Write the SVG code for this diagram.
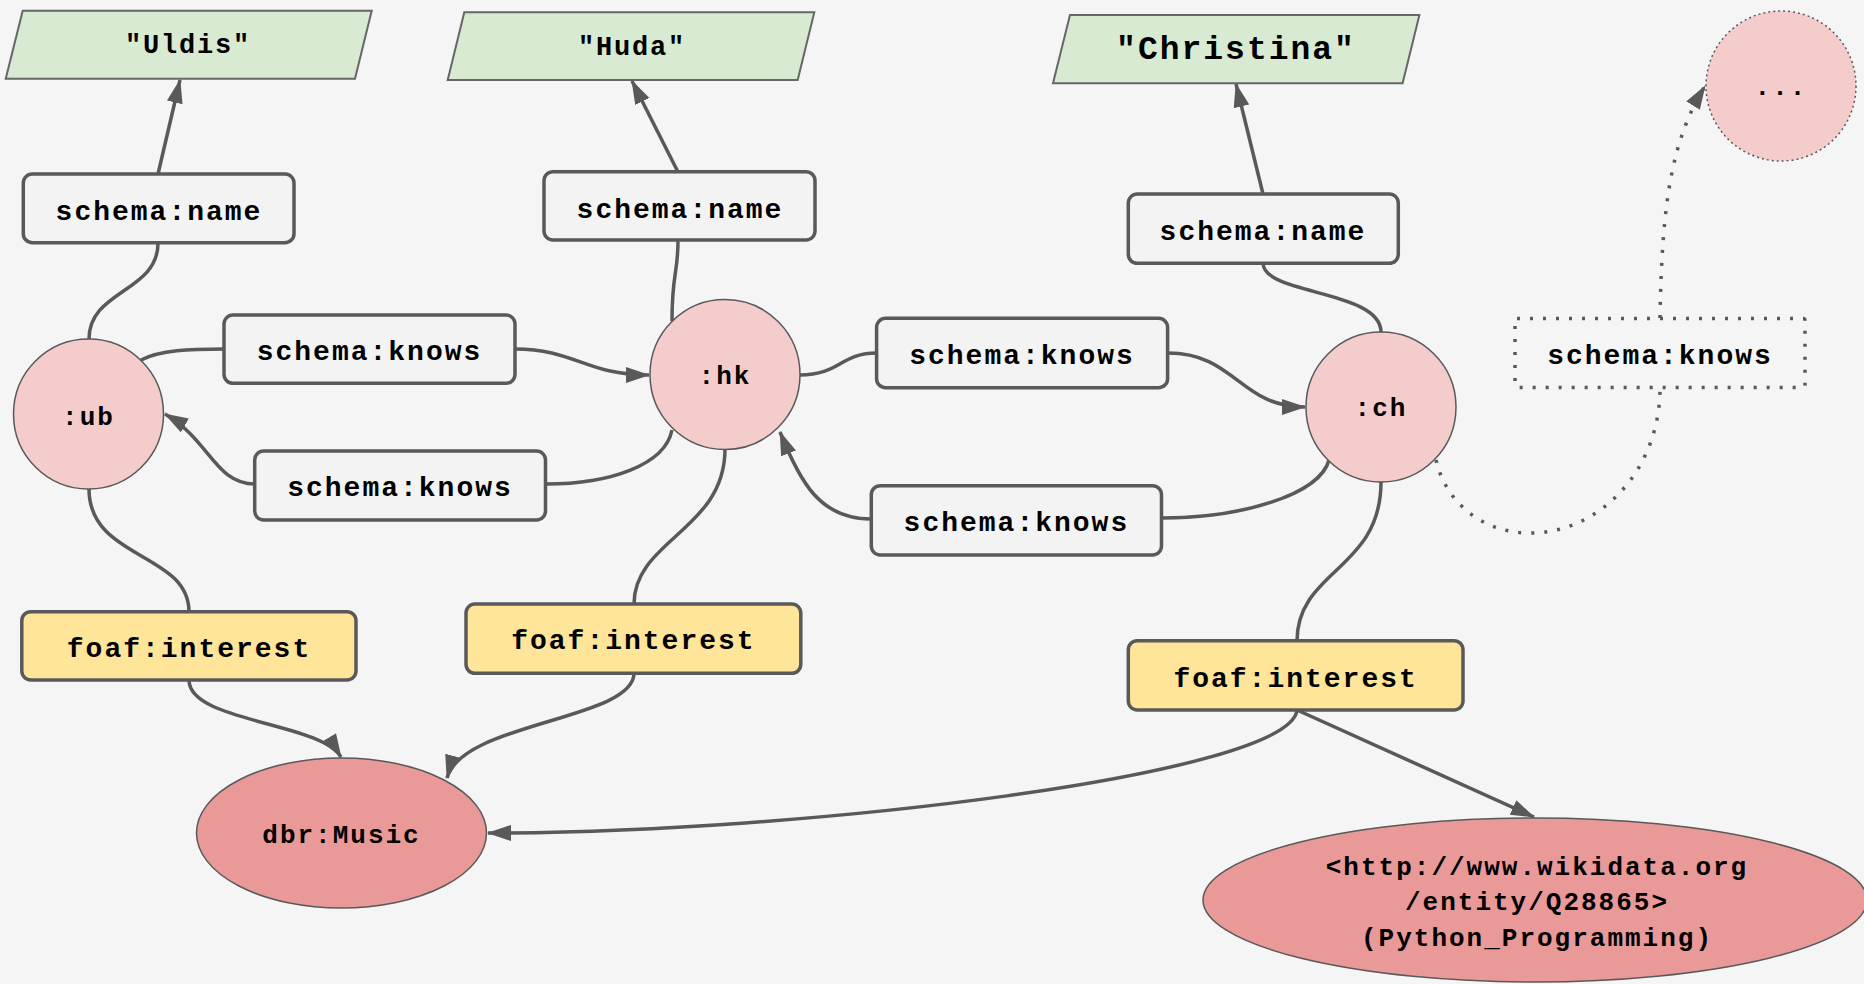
<svg xmlns="http://www.w3.org/2000/svg" width="1864" height="984" viewBox="0 0 1864 984">
<defs>
<marker id="arr" markerUnits="userSpaceOnUse" markerWidth="26" markerHeight="18" refX="23" refY="8" orient="auto">
<path d="M0,0 L24,8 L0,16 z" fill="#595959"/>
</marker>
<style>
.lit{fill:#d9ead3;stroke:#666;stroke-width:2}
.res{fill:#f4cccc;stroke:#595959;stroke-width:1.5}
.obj{fill:#ea9999;stroke:#595959;stroke-width:1.5}
.lbl{fill:#f3f3f3;stroke:#595959;stroke-width:3.5}
.int{fill:#ffe599;stroke:#595959;stroke-width:3.5}
.dotbox{fill:none;stroke:#595959;stroke-width:3.5;stroke-dasharray:3 10}
.t{font-family:"Liberation Mono","Courier New",monospace;font-weight:bold;fill:#000;text-anchor:middle}
.tl{font-size:28px;letter-spacing:2px}
.tn{font-size:26px;letter-spacing:2px}
.c{fill:none;stroke:#595959;stroke-width:3.5}
.cd{fill:none;stroke:#595959;stroke-width:3.5;stroke-dasharray:3 10}
</style>
</defs>
<rect width="1864" height="984" fill="#f5f5f5"/>

<g id="connectors">
<path class="c" d="M89 339 C89 290 158 292 158 243"/>
<path class="c" d="M158 174 L180 80" marker-end="url(#arr)"/>
<path class="c" d="M672 321 C672 272 678 275 678 240"/>
<path class="c" d="M678 172 L632 81" marker-end="url(#arr)"/>
<path class="c" d="M1381 332 C1381 290 1263 295 1263 263"/>
<path class="c" d="M1263 194 L1236 84" marker-end="url(#arr)"/>
<path class="c" d="M141 360 C160 350 190 349 224 349"/>
<path class="c" d="M515 349 C575 349 585 375 649 375" marker-end="url(#arr)"/>
<path class="c" d="M672 430 C665 465 610 484 546 484"/>
<path class="c" d="M255 484 C215 484 210 440 165 414" marker-end="url(#arr)"/>
<path class="c" d="M800 375 C840 375 840 353 877 353"/>
<path class="c" d="M1168 353 C1235 353 1240 407 1305 407" marker-end="url(#arr)"/>
<path class="c" d="M1329 460 C1320 495 1240 518 1162 518"/>
<path class="c" d="M871 519 C820 519 800 482 780 432" marker-end="url(#arr)"/>
<path class="cd" d="M1436 460 C1445 500 1480 533 1530 533 C1600 533 1660 470 1660 388"/>
<path class="cd" d="M1660 318 C1662 200 1672 140 1705 86" marker-end="url(#arr)"/>
<path class="c" d="M89 489 C89 560 189 552 189 612"/>
<path class="c" d="M189 680 C189 722 320 722 341 757" marker-end="url(#arr)"/>
<path class="c" d="M725 449 C725 530 634 540 634 604"/>
<path class="c" d="M634 673 C634 720 462 722 447 778" marker-end="url(#arr)"/>
<path class="c" d="M1381 482 C1381 570 1297 570 1297 641"/>
<path class="c" d="M1297 710 C1290 775 800 833 488 833" marker-end="url(#arr)"/>
<path class="c" d="M1297 710 L1534 817" marker-end="url(#arr)"/>
</g>

<g id="lit-uldis"><polygon class="lit" points="22.7,10.7 371.7,10.7 355,78.7 5.7,78.7"/><text class="t" x="188" y="53" font-size="27" letter-spacing="1.8">"Uldis"</text></g>
<g id="lit-huda"><polygon class="lit" points="464.3,12.3 814.3,12.3 797.7,80 447.7,80"/><text class="t" x="632" y="55" font-size="27" letter-spacing="1.8">"Huda"</text></g>
<g id="lit-christina"><polygon class="lit" points="1070,15 1419.4,15 1402.6,83.3 1053,83.3"/><text class="t" x="1236" y="59" font-size="33" letter-spacing="2">"Christina"</text></g>
<g id="more"><ellipse cx="1781" cy="86" rx="75" ry="75" fill="#f4cccc" stroke="#595959" stroke-width="1.5" stroke-dasharray="2 3"/><text class="t tn" x="1781" y="95">...</text></g>

<g id="name1"><rect class="lbl" x="23.3" y="174" width="270.7" height="68.7" rx="9"/><text class="t tl" x="159" y="220">schema:name</text></g>
<g id="name2"><rect class="lbl" x="544" y="171.7" width="271" height="68.3" rx="9"/><text class="t tl" x="680" y="218">schema:name</text></g>
<g id="name3"><rect class="lbl" x="1128.3" y="194" width="270" height="69.3" rx="9"/><text class="t tl" x="1263" y="240">schema:name</text></g>

<g id="ub"><circle class="res" cx="88.5" cy="414" r="75"/><text class="t tn" x="88.5" y="425">:ub</text></g>
<g id="hk"><circle class="res" cx="725" cy="374.5" r="75"/><text class="t tn" x="725" y="384">:hk</text></g>
<g id="ch"><circle class="res" cx="1381" cy="407" r="75"/><text class="t tn" x="1381" y="416">:ch</text></g>

<g id="knows1"><rect class="lbl" x="224" y="315" width="291" height="68.3" rx="9"/><text class="t tl" x="369.5" y="360">schema:knows</text></g>
<g id="knows2"><rect class="lbl" x="254.7" y="451" width="290.8" height="69" rx="9"/><text class="t tl" x="400" y="496">schema:knows</text></g>
<g id="knows3"><rect class="lbl" x="876.6" y="318.3" width="291" height="69.4" rx="9"/><text class="t tl" x="1022" y="364">schema:knows</text></g>
<g id="knows4"><rect class="lbl" x="871.3" y="485.7" width="290.2" height="69.3" rx="9"/><text class="t tl" x="1016.4" y="531">schema:knows</text></g>
<g id="knows5"><rect class="dotbox" x="1515" y="318.5" width="290" height="69" rx="2"/><text class="t tl" x="1660" y="364">schema:knows</text></g>

<g id="interest1"><rect class="int" x="21.8" y="611.7" width="334.2" height="68.3" rx="9"/><text class="t tl" x="189" y="657">foaf:interest</text></g>
<g id="interest2"><rect class="int" x="466" y="604" width="334.8" height="69.3" rx="9"/><text class="t tl" x="633.4" y="649">foaf:interest</text></g>
<g id="interest3"><rect class="int" x="1128.3" y="640.7" width="334.7" height="69.3" rx="9"/><text class="t tl" x="1295.6" y="687">foaf:interest</text></g>

<g id="music"><ellipse class="obj" cx="341.5" cy="833" rx="145" ry="75"/><text class="t tn" x="341.5" y="843">dbr:Music</text></g>
<g id="wikidata"><ellipse class="obj" cx="1535" cy="900" rx="332" ry="82"/>
<text class="t tn" x="1537" y="875">&lt;http://www.wikidata.org</text>
<text class="t tn" x="1537" y="910">/entity/Q28865&gt;</text>
<text class="t tn" x="1537" y="946">(Python_Programming)</text></g>
</svg>
